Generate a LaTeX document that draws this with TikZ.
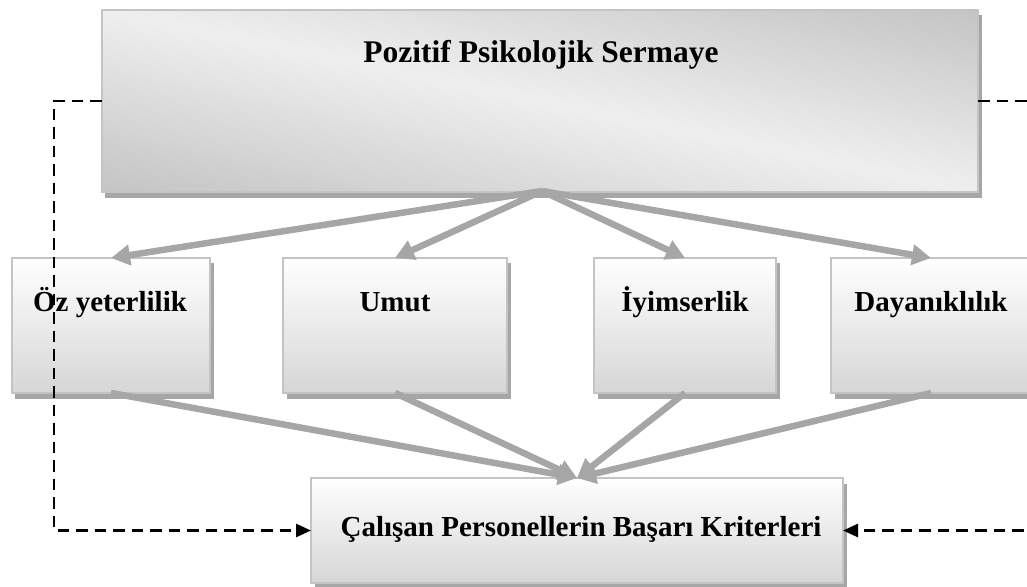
\documentclass[tikz,border=0pt]{standalone}
\usepackage{fontspec}
\setmainfont{Liberation Serif}
\usetikzlibrary{arrows.meta,shadows,calc}
\definecolor{boxedge}{HTML}{C4C4C4}
\definecolor{boxlow}{HTML}{D6D6D6}
\definecolor{bigdark}{HTML}{C4C4C4}
\definecolor{biglight}{HTML}{EFEFEF}
\definecolor{arrowgray}{HTML}{A6A6A6}
\begin{document}
\begin{tikzpicture}[x=1bp,y=-1bp,
  box/.style={rectangle, draw=boxedge, line width=2.4bp, inner sep=0pt, outer sep=0pt,
    top color=white, bottom color=boxlow,
    drop shadow={shadow xshift=3.5bp, shadow yshift=-5.5bp, fill=arrowgray, opacity=1}},
  bigbox/.style={box, fill=biglight},
  edgeline/.style={draw=boxedge, line width=2.4bp},
  lbl/.style={anchor=base, inner sep=0pt, font=\bfseries\fontsize{29bp}{34bp}\selectfont},
  toplbl/.style={lbl, font=\bfseries\fontsize{31.5bp}{36bp}\selectfont},
  flow/.style={draw=arrowgray, line width=6.5bp, -{Triangle[length=19bp,width=20bp]}},
  fback/.style={draw=black, line width=2.7bp, dash pattern=on 11.5bp off 7bp, -{Triangle[length=15bp,width=13bp]}}]
\useasboundingbox (0,0) rectangle (1027,587);
\clip (0,0) rectangle (1027,587);

% main box with a diagonal gradient: light along the top-left/bottom-right diagonal
\node[bigbox, minimum width=876bp, minimum height=182bp] (top) at (540,101) {};
\begin{scope}
  \clip (top.south west) rectangle (top.north east);
  \foreach \i in {0,...,79}{
    \pgfmathsetmacro\ta{-1+\i/40}
    \pgfmathsetmacro\tb{\ta+1/40+0.004}
    \pgfmathsetmacro\pc{100*(1-abs(\ta+1/80))}
    \fill[biglight!\pc!bigdark]
      (102+876*\ta,10) -- (102+876*\tb,10) -- (102+876*\tb+876,192) -- (102+876*\ta+876,192) -- cycle;
  }
\end{scope}
\draw[edgeline] (top.south west) rectangle (top.north east);

% factor boxes and the outcome box
\node[box, minimum width=198bp, minimum height=135bp] (oz) at (111,325.5) {};
\node[box, minimum width=224bp, minimum height=135bp] (umut) at (395,325.5) {};
\node[box, minimum width=182bp, minimum height=135bp] (iyi) at (685,325.5) {};
\node[box, minimum width=200bp, minimum height=135bp] (day) at (931,325.5) {};
\node[box, minimum width=532bp, minimum height=105bp] (bot) at (577,530.5) {};

% labels
\node[toplbl] (ttop) at (541,63) {Pozitif Psikolojik Sermaye};
\node[lbl] (toz) at (110,311) {Öz yeterlilik};
\node[lbl] (tumut) at (395,311) {Umut};
\node[lbl] (tiyi) at (685,311) {İyimserlik};
\node[lbl] (tday) at (931,311) {Dayanıklılık};
\node[lbl] (tbot) at (581,536) {Çalışan Personellerin Başarı Kriterleri};

% gray connectors
\coordinate (hub) at ($(top.south)+(2,-1)$);
\foreach \n in {oz,umut,iyi,day}{
  \draw[flow] (hub) -- (\n.north);
  \draw[flow] (\n.south) -- (bot.north);
}

% dashed feedback lines
\coordinate (lc) at (54,101);
\coordinate (rc) at (1045,101);
\draw[fback] (top.west) -- (lc) |- (bot.west);
\draw[fback] (top.east) -- (rc) |- (bot.east);
\end{tikzpicture}
\end{document}
